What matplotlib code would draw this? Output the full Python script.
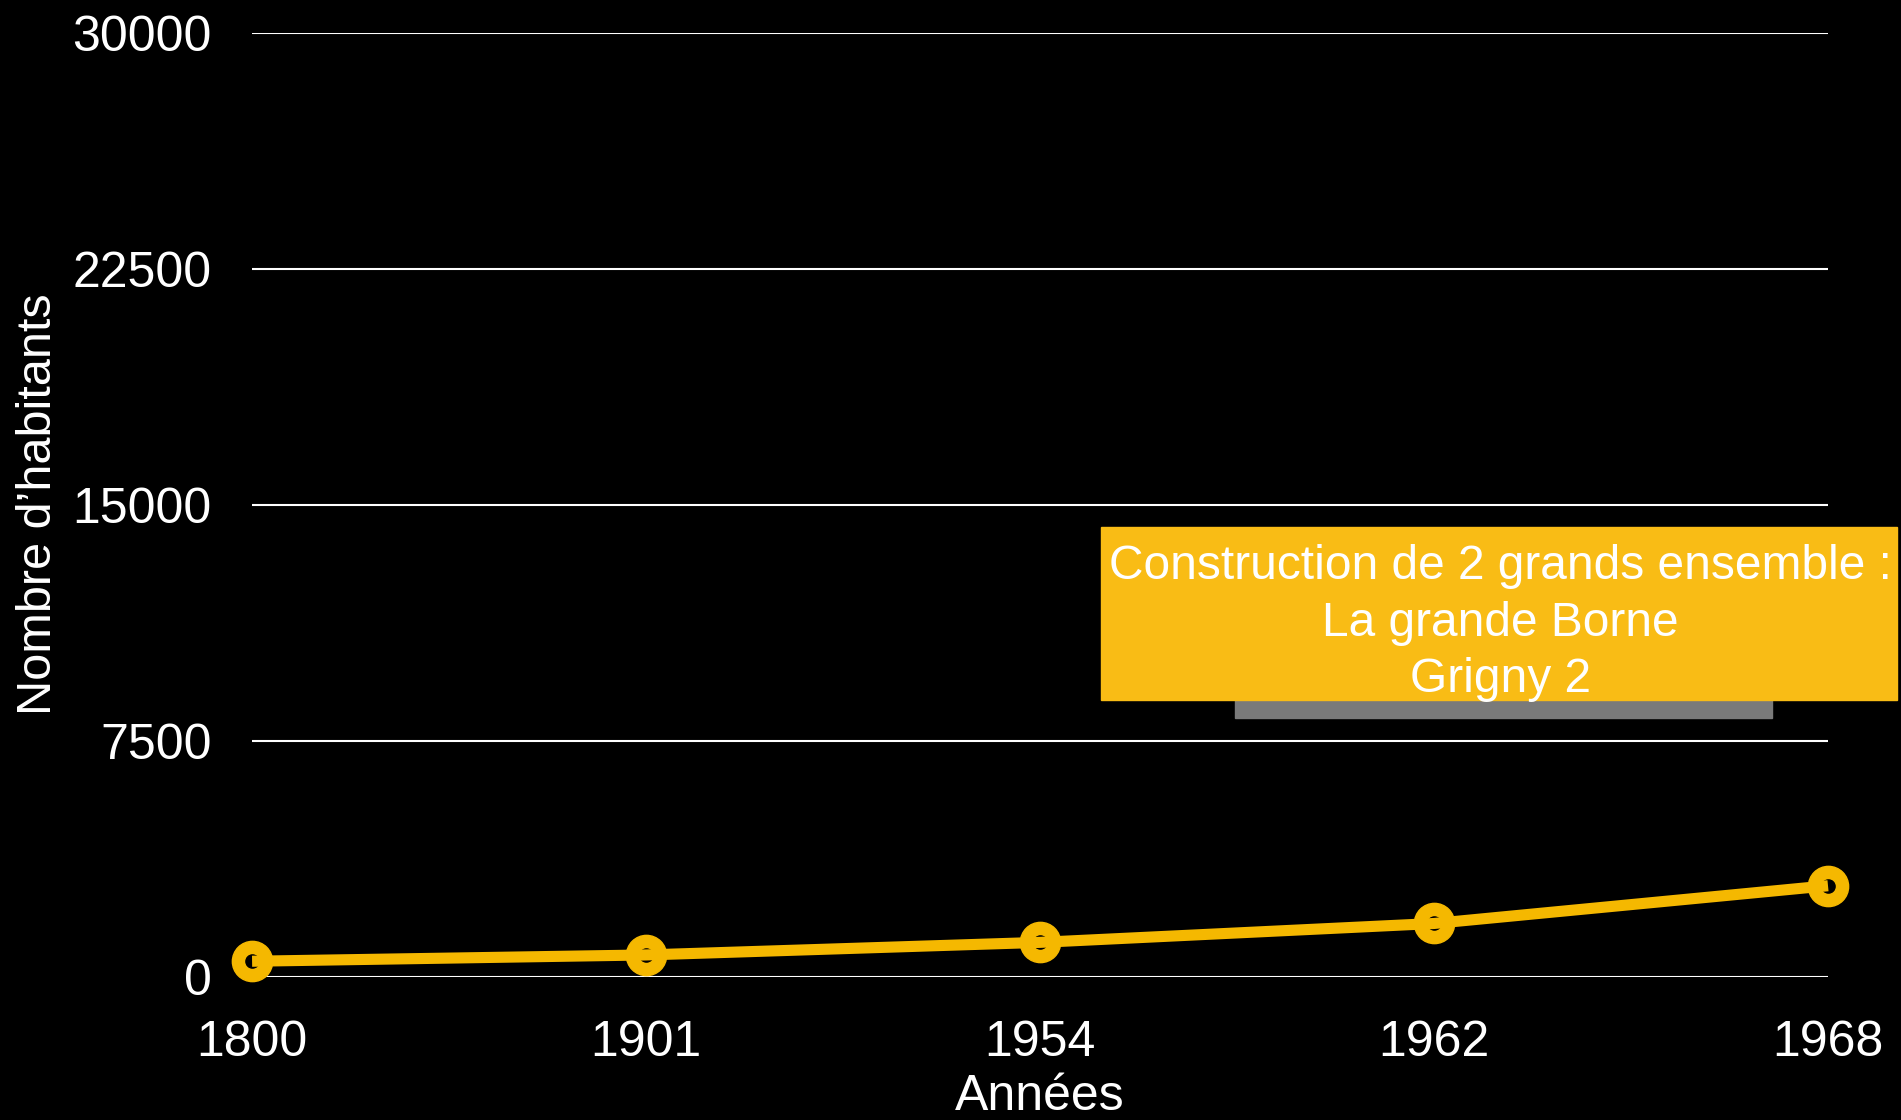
import matplotlib.pyplot as plt
from matplotlib.patches import Rectangle

plt.rcParams['font.family'] = ['Liberation Sans', 'DejaVu Sans']

annees = ["1800", "1901", "1954", "1962", "1968"]
habitants = [500, 700, 1100, 1700, 2900]
y_ticks = [0, 7500, 15000, 22500, 30000]
note = "Construction de 2 grands ensemble :\nLa grande Borne\nGrigny 2"

jaune = "#F5B800"

fig = plt.figure(figsize=(19.01, 11.20), dpi=100, facecolor="black")
ax = fig.add_axes([0.1326, 0.1277, 0.829, 0.8428])
ax.set_facecolor("black")

x = list(range(len(annees)))

# grid lines
for v in y_ticks:
    ax.axhline(v, color="white", lw=1.5, zorder=1)

# markers: yellow circle, small black centre, then the line over it
ax.plot(x, habitants, ls="none", marker="o", ms=29, color=jaune, zorder=3, clip_on=False)
ax.plot(x, habitants, ls="none", marker="o", ms=9.5, color="black", zorder=4, clip_on=False)
ax.plot(x, habitants, color=jaune, lw=8, solid_capstyle="butt", zorder=5, clip_on=False)

ax.set_xlim(0, len(annees) - 1)
ax.set_ylim(0, 30000)
ax.set_xticks(x)
ax.set_xticklabels(annees)
ax.set_yticks(y_ticks)
ax.set_yticklabels([str(v) for v in y_ticks])
ax.tick_params(colors="white", labelsize=36, length=0)
ax.tick_params(axis="y", pad=29)
ax.tick_params(axis="x", pad=31)
for s in ax.spines.values():
    s.set_visible(False)

fig.text(39 / 1901, 1 - 504 / 1120, "Nombre d\u2019habitants", color="white", fontsize=35,
         rotation=90, ha="center", va="center")
ax.set_xlabel("Ann\u00e9es", color="white", fontsize=36, labelpad=6)

# annotation box
fig.patches.append(Rectangle((1235 / 1901, 1 - 718 / 1120), 537 / 1901, 30 / 1120,
                             transform=fig.transFigure, color="#7a7a7a", zorder=6))
fig.patches.append(Rectangle((1101 / 1901, 1 - 700 / 1120), 796 / 1901, 173 / 1120,
                             transform=fig.transFigure, color="#F9BC15", zorder=7))
fig.text(1500 / 1901, 1 - 623 / 1120, note, color="white", fontsize=34.5,
         ha="center", va="center", linespacing=1.32, zorder=8)

fig.savefig("out.png", facecolor="black")
